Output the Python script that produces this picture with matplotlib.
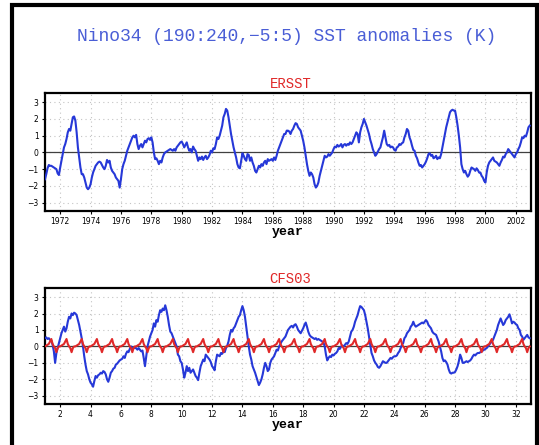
# Nino34 SST anomalies: ERSST observations vs CFS03 run, two panels
import numpy as np
import matplotlib
matplotlib.use('Agg')
import matplotlib.pyplot as plt
from matplotlib.patches import Rectangle

# monthly anomalies (K), Jan 1971 .. Dec 2002, one row per year
ersst = [
    -1.6, -1.3, -0.95, -0.75, -0.8, -0.8, -0.85, -0.9, -0.95, -1.0, -1.25, -1.35,   # 1971
    -0.9, -0.5, -0.1, 0.3, 0.5, 0.8, 1.2, 1.4, 1.3, 1.7, 2.1, 2.15,                 # 1972
    1.9, 1.2, 0.3, -0.3, -0.9, -1.3, -1.3, -1.5, -1.8, -2.1, -2.2, -2.1,            # 1973
    -1.9, -1.5, -1.2, -1.0, -0.8, -0.7, -0.6, -0.55, -0.6, -0.75, -0.9, -1.0,       # 1974
    -0.8, -0.45, -0.6, -0.5, -0.9, -1.1, -1.2, -1.3, -1.5, -1.6, -1.7, -2.1,        # 1975
    -1.6, -1.0, -0.7, -0.5, -0.2, 0.1, 0.3, 0.5, 0.7, 0.9, 1.0, 0.9,                # 1976
    1.05, 0.5, 0.2, 0.4, 0.5, 0.3, 0.5, 0.7, 0.6, 0.8, 0.85, 0.75,                  # 1977
    0.9, 0.6, 0.0, -0.4, -0.35, -0.5, -0.7, -0.5, -0.6, -0.3, -0.1, 0.0,            # 1978
    0.05, 0.1, 0.15, 0.2, 0.15, 0.1, 0.2, 0.1, 0.3, 0.4, 0.5, 0.6,                  # 1979
    0.65, 0.5, 0.3, 0.45, 0.6, 0.3, 0.1, 0.2, 0.0, 0.35, 0.2, 0.1,                  # 1980
    -0.2, -0.5, -0.3, -0.4, -0.25, -0.45, -0.3, -0.2, -0.4, -0.3, -0.15, 0.1,       # 1981
    0.0, 0.25, 0.2, 0.5, 0.9, 0.8, 1.0, 1.3, 1.6, 2.1, 2.3, 2.6,                    # 1982
    2.5, 2.1, 1.6, 1.1, 0.7, 0.3, 0.0, -0.3, -0.7, -0.9, -0.95, -0.5,               # 1983
    -0.05, -0.2, -0.4, -0.5, -0.1, -0.15, -0.5, -0.3, -0.6, -0.8, -1.1, -1.2,       # 1984
    -1.0, -0.8, -0.9, -0.7, -0.8, -0.6, -0.5, -0.7, -0.4, -0.5, -0.45, -0.4,        # 1985
    -0.5, -0.3, -0.45, -0.2, 0.1, 0.3, 0.5, 0.7, 0.9, 1.1, 1.1, 1.3,                # 1986
    1.3, 1.25, 1.1, 1.3, 1.4, 1.6, 1.75, 1.7, 1.5, 1.4, 1.3, 1.0,                   # 1987
    0.7, 0.3, -0.2, -0.7, -1.1, -1.4, -1.2, -1.3, -1.5, -1.9, -2.1, -2.0,           # 1988
    -1.8, -1.4, -1.1, -0.8, -0.5, -0.2, -0.3, -0.25, -0.1, -0.2, -0.1, 0.0,         # 1989
    0.2, 0.35, 0.3, 0.45, 0.35, 0.4, 0.5, 0.3, 0.45, 0.5, 0.4, 0.5,                 # 1990
    0.45, 0.6, 0.5, 0.6, 0.8, 1.0, 1.2, 1.1, 0.6, 1.2, 1.5, 1.7,                    # 1991
    2.0, 1.8, 1.6, 1.35, 1.1, 0.75, 0.5, 0.2, 0.0, -0.2, -0.1, 0.05,                # 1992
    0.2, 0.3, 0.6, 0.9, 1.3, 0.9, 0.5, 0.4, 0.45, 0.3, 0.35, 0.3,                   # 1993
    0.15, 0.1, 0.3, 0.35, 0.5, 0.45, 0.55, 0.6, 0.9, 1.1, 1.4, 1.3,                 # 1994
    0.9, 0.7, 0.4, 0.15, 0.1, -0.2, -0.35, -0.6, -0.8, -0.75, -0.9, -0.8,           # 1995
    -0.7, -0.55, -0.35, -0.1, -0.05, -0.2, -0.15, -0.35, -0.3, -0.2, -0.4, -0.3,    # 1996
    -0.35, -0.1, 0.3, 0.7, 1.1, 1.5, 1.8, 2.1, 2.4, 2.5, 2.55, 2.5,                 # 1997
    2.5, 2.1, 1.6, 1.0, 0.3, -0.7, -1.0, -1.2, -1.1, -1.3, -1.45, -1.35,            # 1998
    -1.1, -0.9, -0.95, -1.0, -1.1, -0.95, -1.05, -1.2, -1.2, -1.4, -1.5, -1.7,      # 1999
    -1.8, -1.2, -0.8, -0.6, -0.5, -0.4, -0.3, -0.5, -0.55, -0.6, -0.7, -0.8,        # 2000
    -0.6, -0.45, -0.25, -0.3, -0.1, 0.0, 0.2, 0.1, 0.0, -0.1, -0.2, -0.3,           # 2001
    -0.1, 0.0, 0.2, 0.35, 0.6, 0.9, 0.85, 1.0, 0.95, 1.2, 1.5, 1.6,                 # 2002
]

# CFS03 free run, model years 1..32
cfs03 = [
    0.5, 0.55, 0.45, 0.5, 0.4, 0.35, 0.1, -0.3, -1.0, -0.4, -0.1, 0.2,
    0.5, 0.8, 1.0, 1.2, 0.9, 1.1, 1.5, 1.8, 1.7, 2.0, 1.9, 2.05,
    2.0, 1.9, 1.6, 1.3, 0.9, 0.5, 0.0, -0.6, -1.1, -1.5, -1.7, -2.0,
    -2.2, -2.3, -2.45, -2.1, -1.8, -1.9, -1.75, -1.7, -1.6, -1.65, -1.5, -1.55,
    -1.7, -2.0, -2.15, -1.9, -1.6, -1.5, -1.35, -1.3, -1.1, -1.05, -0.95, -0.85,
    -0.8, -0.75, -0.6, -0.7, -0.45, -0.3, -0.35, -0.15, 0.0, -0.1, -0.05, -0.1,
    -0.1, -0.2, -0.1, -0.2, -0.3, -0.25, -0.7, -1.2, -0.6, 0.0, 0.3, 0.6,
    0.8, 1.0, 1.4, 1.2, 1.6, 1.5, 1.9, 2.2, 2.1, 2.3, 2.2, 2.5,
    2.2, 1.8, 1.3, 0.9, 0.8, 0.6, 0.4, 0.2, 0.0, -0.5, -0.6, -0.9,
    -1.0, -1.4, -1.9, -1.6, -1.2, -1.5, -1.3, -1.6, -1.5, -1.4, -1.6, -1.8,
    -1.9, -2.05, -1.6, -1.2, -1.0, -0.8, -0.9, -0.5, -0.6, -0.7, -0.8, -0.95,
    -1.2, -1.3, -1.45, -0.9, -0.5, -0.55, -0.6, -0.4, -0.45, -0.3, -0.35, -0.1,
    0.05, 0.3, 0.7, 1.0, 0.9, 1.1, 1.2, 1.4, 1.6, 1.8, 1.9, 2.2,
    2.45, 2.2, 1.8, 1.2, 0.6, 0.0, -0.5, -0.8, -1.2, -1.4, -1.6, -1.85,
    -2.1, -2.35, -2.2, -2.0, -1.7, -1.3, -1.0, -1.2, -1.5, -1.4, -1.0, -0.8,
    -0.7, -0.6, -0.4, -0.2, -0.25, 0.0, 0.15, 0.3, 0.4, 0.5, 0.6, 0.8,
    1.0, 1.1, 1.2, 1.25, 1.15, 1.3, 1.35, 1.2, 1.0, 0.9, 0.8, 0.95,
    1.1, 1.3, 1.45, 1.2, 0.9, 0.7, 0.6, 0.55, 0.5, 0.45, 0.5, 0.4,
    0.45, 0.4, 0.35, 0.3, 0.25, 0.0, -0.5, -0.85, -0.7, -0.6, -0.65, -0.5,
    -0.55, -0.45, -0.4, -0.3, -0.1, -0.15, 0.0, 0.05, 0.0, 0.1, 0.2, 0.15,
    0.3, 0.6, 0.9, 1.0, 1.2, 1.5, 1.7, 1.9, 2.2, 2.45, 2.4, 2.3,
    2.2, 1.9, 1.5, 1.1, 0.6, 0.1, -0.4, -0.6, -0.85, -1.0, -1.1, -1.25,
    -1.3, -1.2, -1.05, -0.9, -0.95, -1.0, -1.0, -0.9, -0.8, -0.7, -0.75, -0.65,
    -0.6, -0.6, -0.55, -0.4, -0.3, -0.1, 0.1, 0.2, 0.5, 0.6, 0.8, 0.9,
    1.0, 1.2, 1.3, 1.5, 1.3, 1.2, 1.25, 1.3, 1.35, 1.4, 1.45, 1.4,
    1.5, 1.6, 1.5, 1.3, 1.2, 1.1, 0.9, 0.8, 0.75, 0.7, 0.5, 0.3,
    0.0, -0.3, -0.7, -0.9, -0.85, -0.95, -1.1, -1.4, -1.6, -1.65, -1.6, -1.6,
    -1.55, -1.4, -1.2, -0.9, -0.5, -0.7, -1.0, -1.0, -0.95, -0.9, -0.95, -0.9,
    -0.85, -0.75, -0.6, -0.5, -0.55, -0.45, -0.4, -0.4, -0.35, -0.3, -0.25, -0.2,
    -0.15, -0.1, 0.0, 0.1, 0.2, 0.3, 0.4, 0.6, 0.8, 1.0, 1.3, 1.5,
    1.7, 1.5, 1.3, 1.4, 1.6, 1.7, 1.8, 1.95, 1.7, 1.4, 1.5, 1.45,
    1.35, 1.3, 1.1, 1.0, 0.7, 0.6, 0.4, 0.5, 0.6, 0.7, 0.55, 0.5,
]

# red curve repeats the same shape every model year
cfs03_cycle = [0.0, 0.05, 0.1, 0.15, 0.3, 0.45, 0.15, 0.0, -0.1, -0.35, -0.1, 0.0]
cfs03_red = np.tile(cfs03_cycle, 32)

ersst_ticks = list(range(1972, 2003, 2))
cfs_ticks = list(range(2, 33, 2))
yticks = [-3, -2, -1, 0, 1, 2, 3]

blue = '#2638d8'
red = '#e02828'

fig = plt.figure(figsize=(5.39, 4.45), dpi=100)

# black frame around the page
fig.patches.append(Rectangle((12 / 539, -0.1), 525 / 539, 1.1 - 5 / 445,
                             transform=fig.transFigure, fill=False,
                             edgecolor='black', linewidth=3))

fig.text(0.532, 0.918, 'Nino34 (190:240,\u22125:5) SST anomalies (K)',
         ha='center', va='center', color='#4a5ed6',
         family='Liberation Mono', fontsize=13)


def panel(ax, x, xlim, xticks, label, series):
    for y, c in series:
        ax.plot(x, y, color=c, linewidth=1.5, zorder=3)
    ax.axhline(0, color='#404040', linewidth=0.9, zorder=2)
    ax.set_xlim(xlim)
    ax.set_ylim(-3.5, 3.55)
    ax.set_xticks(xticks)
    ax.set_yticks(yticks)
    ax.grid(True, linestyle=(0, (1, 3)), color='#c4c4c4', linewidth=0.8)
    ax.tick_params(labelsize=5.5, length=2.5, width=0.8, pad=2)
    for s in ax.spines.values():
        s.set_linewidth(1.6)
    ax.set_xlabel('year', family='Liberation Mono', fontweight='bold',
                  fontsize=9.5, labelpad=0)
    ax.text(0.505, 1.015, label, transform=ax.transAxes, ha='center',
            va='bottom', color=red, family='Liberation Mono', fontsize=10)


ax1 = fig.add_axes([45 / 539, 1 - 211 / 445, 486 / 539, 118 / 445])
x1 = 1971 + np.arange(len(ersst)) / 12
panel(ax1, x1, (1971, 2003), ersst_ticks, 'ERSST', [(ersst, blue)])

ax2 = fig.add_axes([45 / 539, 1 - 404 / 445, 486 / 539, 116 / 445])
x2 = 1 + np.arange(len(cfs03)) / 12
panel(ax2, x2, (1, 33), cfs_ticks, 'CFS03', [(cfs03, blue), (cfs03_red, red)])

fig.savefig('out.png', dpi=100)
